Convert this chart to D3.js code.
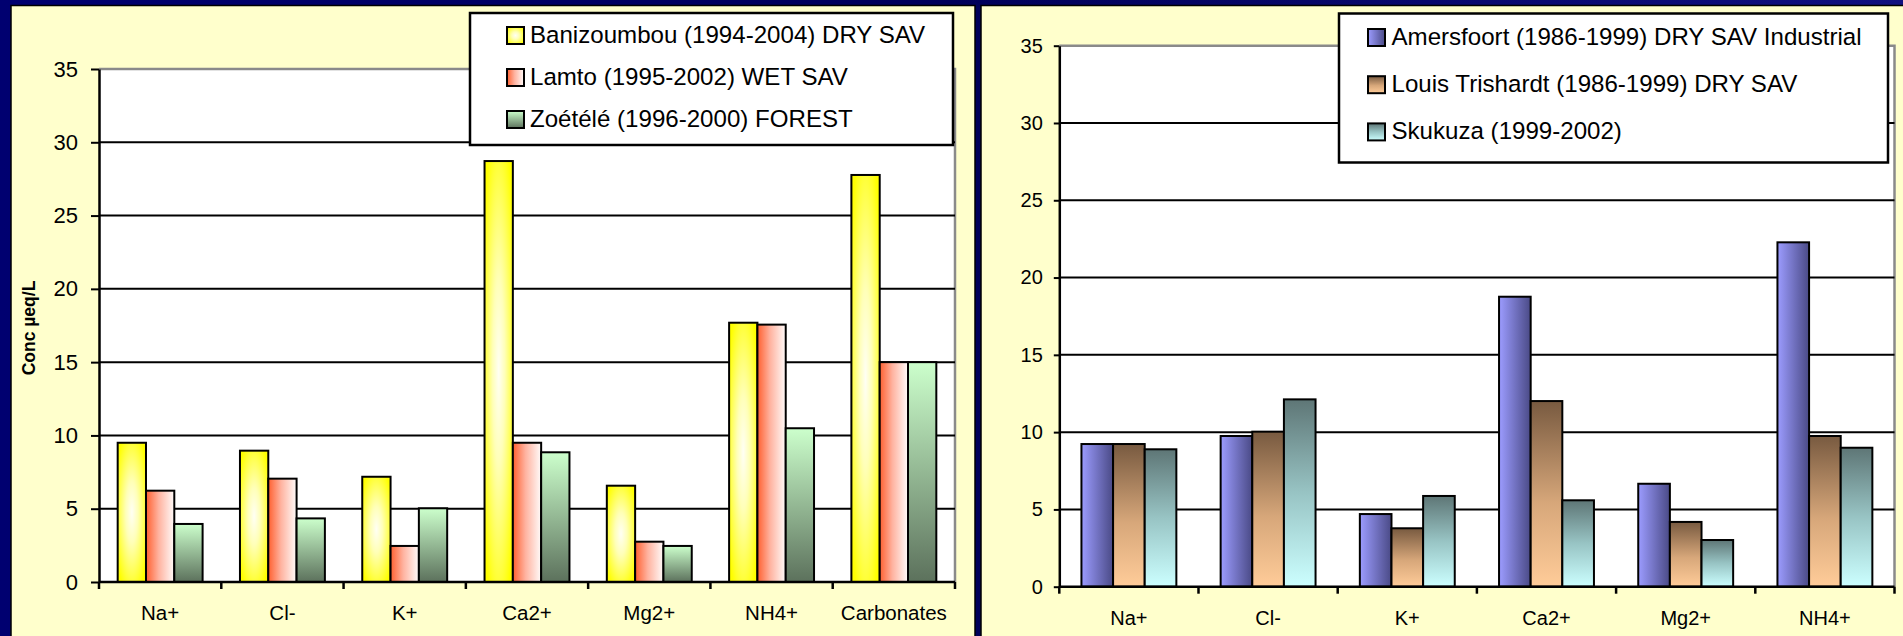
<!DOCTYPE html>
<html>
<head>
<meta charset="utf-8">
<script src="https://cdn.jsdelivr.net/npm/d3@7"></script>
<style>
  html, body { margin: 0; padding: 0; background: #000066; }
  svg { display: block; }
  text { font-family: "Liberation Sans", Arial, sans-serif; fill: #000; }
</style>
</head>
<body>
<svg id="chart" width="1903" height="636"></svg>
<script>
// ---------------- DATA ----------------
const leftCategories = ["Na+", "Cl-", "K+", "Ca2+", "Mg2+", "NH4+", "Carbonates"];
const leftSeriesNames = ["Banizoumbou (1994-2004) DRY SAV", "Lamto (1995-2002) WET SAV", "Zoétélé (1996-2000) FOREST"];
const banizoumbou = [9.5, 8.96, 7.18, 28.72, 6.57, 17.69, 27.77];
const lamto       = [6.23, 7.05, 2.46, 9.5, 2.75, 17.56, 15.0];
const zoetele     = [3.96, 4.34, 5.03, 8.85, 2.46, 10.49, 15.0];

const rightCategories = ["Na+", "Cl-", "K+", "Ca2+", "Mg2+", "NH4+"];
const rightSeriesNames = ["Amersfoort (1986-1999) DRY SAV Industrial", "Louis Trishardt (1986-1999) DRY SAV", "Skukuza (1999-2002)"];
const amersfoort     = [9.23, 9.75, 4.70, 18.76, 6.66, 22.28];
const louisTrishardt = [9.23, 10.03, 3.78, 12.01, 4.19, 9.75];
const skukuza        = [8.89, 12.12, 5.87, 5.59, 3.02, 8.99];

const yTicks = [0, 5, 10, 15, 20, 25, 30, 35];
const yTitle = "Conc µeq/L";

// ---------------- DRAW ----------------
const svg = d3.select("#chart");
const defs = svg.append("defs");

function linGrad(id, vertical, stops) {
  const g = defs.append("linearGradient").attr("id", id)
    .attr("x1", 0).attr("y1", 0).attr("x2", vertical ? 0 : 1).attr("y2", vertical ? 1 : 0);
  stops.forEach(s => g.append("stop").attr("offset", s[0]).attr("stop-color", s[1]));
}
const rg = defs.append("radialGradient").attr("id", "gYellow").attr("cx", "50%").attr("cy", "50%").attr("r", "62%");
rg.append("stop").attr("offset", 0).attr("stop-color", "#FFFFF4");
rg.append("stop").attr("offset", 0.35).attr("stop-color", "#FFFFB8");
rg.append("stop").attr("offset", 1).attr("stop-color", "#FFFF00");
linGrad("gRed", false, [[0, "#FF6030"], [0.45, "#FFB3A0"], [1, "#FFFBFA"]]);
linGrad("gGreen", true, [[0, "#CCFFCC"], [1, "#5C715C"]]);
linGrad("gBlue", false, [[0, "#9C9CFF"], [1, "#4A4A86"]]);
linGrad("gBrown", true, [[0, "#785A40"], [0.55, "#D7A77A"], [1, "#FFCC99"]]);
linGrad("gCyan", true, [[0, "#5E7676"], [0.5, "#98C4C4"], [1, "#CCFFFF"]]);
linGrad("gBg", false, [[0, "#000070"], [0.5, "#00005A"], [1, "#101080"]]);

// background and panels
svg.append("rect").attr("x", 0).attr("y", 0).attr("width", 1903).attr("height", 636).attr("fill", "url(#gBg)");
svg.append("rect").attr("x", 11).attr("y", 5.5).attr("width", 964).attr("height", 640)
  .attr("fill", "#FFFFCC").attr("stroke", "#000").attr("stroke-width", 1.5);
svg.append("rect").attr("x", 981).attr("y", 5.5).attr("width", 930).attr("height", 640)
  .attr("fill", "#FFFFCC").attr("stroke", "#000").attr("stroke-width", 1.5);

function drawChart(cfg) {
  const g = svg.append("g");
  const x = d3.scaleBand().domain(cfg.categories).range([cfg.x0, cfg.x1]).paddingInner(0).paddingOuter(0);
  const xs = d3.scaleBand().domain(d3.range(cfg.series.length)).range([0, x.bandwidth()])
    .paddingInner(0).paddingOuter(cfg.groupPad);
  const y = d3.scaleLinear().domain([0, 35]).range([cfg.y1, cfg.y0]);

  // plot area
  g.append("rect").attr("x", cfg.x0).attr("y", y(35)).attr("width", cfg.x1 - cfg.x0)
    .attr("height", y(0) - y(35)).attr("fill", "#fff");
  // top and right border (gray)
  g.append("path").attr("d", `M${cfg.x0},${y(35)}H${cfg.x1}V${y(0)}`)
    .attr("fill", "none").attr("stroke", "#8a8a8a").attr("stroke-width", 2.5);

  // gridlines
  g.append("g").selectAll("line").data(yTicks.filter(t => t > 0 && t < 35)).join("line")
    .attr("x1", cfg.x0).attr("x2", cfg.x1).attr("y1", d => y(d)).attr("y2", d => y(d))
    .attr("stroke", "#000").attr("stroke-width", 2);

  // y axis
  const ya = g.append("g").attr("transform", `translate(${cfg.x0},0)`)
    .call(d3.axisLeft(y).tickValues(yTicks).tickSize(cfg.tickLen).tickPadding(cfg.tickPad).tickSizeOuter(0));
  ya.select(".domain").attr("stroke", "#000").attr("stroke-width", 2.5);
  ya.selectAll(".tick line").attr("stroke", "#000").attr("stroke-width", 2);
  ya.selectAll(".tick text").style("font-size", cfg.tickFont + "px").style("font-family", "Liberation Sans, Arial, sans-serif").attr("fill", "#000");

  // bars
  cfg.series.forEach((vals, si) => {
    g.append("g").selectAll("rect").data(vals).join("rect")
      .attr("x", (d, i) => x(cfg.categories[i]) + xs(si))
      .attr("y", d => y(d))
      .attr("width", xs.bandwidth())
      .attr("height", d => y(0) - y(d))
      .attr("fill", `url(#${cfg.fills[si]})`)
      .attr("stroke", "#000").attr("stroke-width", 2);
  });

  // x axis line and ticks at band boundaries
  g.append("line").attr("x1", cfg.x0).attr("x2", cfg.x1).attr("y1", y(0)).attr("y2", y(0))
    .attr("stroke", "#000").attr("stroke-width", 2.5);
  const bounds = cfg.categories.map(c => x(c)).concat([cfg.x1]);
  g.append("g").selectAll("line").data(bounds).join("line")
    .attr("x1", d => d).attr("x2", d => d).attr("y1", y(0)).attr("y2", y(0) + 7)
    .attr("stroke", "#000").attr("stroke-width", 2.5);
  g.append("g").selectAll("text").data(cfg.categories).join("text")
    .attr("x", d => x(d) + x.bandwidth() / 2).attr("y", y(0) + cfg.labelDy)
    .attr("text-anchor", "middle").style("font-size", cfg.labelFont + "px").text(d => d);

  // y title
  if (cfg.yTitle) {
    g.append("text").attr("transform", `translate(${cfg.yTitleX},${cfg.yTitleY}) rotate(-90)`)
      .attr("text-anchor", "middle").style("font-size", "17.5px").style("font-weight", "bold")
      .text(cfg.yTitle);
  }

  // legend
  const L = cfg.legend;
  const lg = g.append("g");
  lg.append("rect").attr("x", L.x).attr("y", L.y).attr("width", L.w).attr("height", L.h)
    .attr("fill", "#fff").attr("stroke", "#000").attr("stroke-width", 2.5);
  cfg.names.forEach((name, i) => {
    const by = L.baseline + i * L.step;
    lg.append("rect").attr("x", L.swX).attr("y", by - 16).attr("width", 17).attr("height", 17)
      .attr("fill", `url(#${cfg.fills[i]})`).attr("stroke", "#000").attr("stroke-width", 2);
    lg.append("text").attr("x", L.textX).attr("y", by).style("font-size", L.font + "px").text(name);
  });
}

drawChart({
  categories: leftCategories,
  series: [banizoumbou, lamto, zoetele],
  names: leftSeriesNames,
  fills: ["gYellow", "gRed", "gGreen"],
  x0: 99, x1: 955, y0: 69, y1: 582,
  groupPad: 0.66, tickLen: 8, tickPad: 13, tickFont: 22, labelFont: 20.5, labelDy: 38,
  yTitle: yTitle, yTitleX: 35, yTitleY: 328,
  legend: { x: 470, y: 13, w: 483, h: 132, swX: 507, textX: 530, baseline: 43, step: 42, font: 24.1 }
});

drawChart({
  categories: rightCategories,
  series: [amersfoort, louisTrishardt, skukuza],
  names: rightSeriesNames,
  fills: ["gBlue", "gBrown", "gCyan"],
  x0: 1059.3, x1: 1894.5, y0: 45.7, y1: 586.7,
  groupPad: 0.7, tickLen: 5.5, tickPad: 11, tickFont: 20, labelFont: 20, labelDy: 38.5,
  yTitle: null,
  legend: { x: 1339, y: 13.5, w: 549, h: 149, swX: 1368, textX: 1391.5, baseline: 45, step: 47.2, font: 24.1 }
});
</script>
</body>
</html>
